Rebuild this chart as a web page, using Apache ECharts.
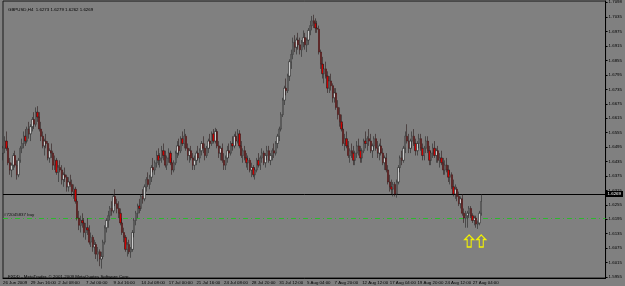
<!DOCTYPE html>
<html><head><meta charset="utf-8">
<script src="https://cdn.jsdelivr.net/npm/echarts@6/dist/echarts.min.js"></script>
<style>html,body{margin:0;padding:0;background:#808080;}#c{width:625px;height:286px;}</style>
</head><body><div id="c"></div>
<script>
const opens=[
1.6470,1.6490,1.6520,1.6490,1.6430,1.6400,1.6420,1.6460,1.6420,1.6380,
1.6440,1.6490,1.6510,1.6540,1.6520,1.6570,1.6550,1.6580,1.6610,1.6590,
1.6640,1.6620,1.6570,1.6540,1.6500,1.6520,1.6510,1.6450,1.6480,1.6470,
1.6420,1.6440,1.6390,1.6410,1.6400,1.6360,1.6380,1.6370,1.6330,1.6350,
1.6340,1.6310,1.6320,1.6270,1.6200,1.6170,1.6190,1.6180,1.6140,1.6160,
1.6150,1.6100,1.6120,1.6080,1.6090,1.6050,1.6060,1.6030,1.6040,1.6100,
1.6160,1.6190,1.6210,1.6240,1.6230,1.6290,1.6260,1.6240,1.6220,1.6180,
1.6140,1.6120,1.6070,1.6090,1.6060,1.6070,1.6140,1.6190,1.6220,1.6250,
1.6240,1.6290,1.6280,1.6330,1.6360,1.6340,1.6370,1.6410,1.6400,1.6430,
1.6460,1.6440,1.6450,1.6480,1.6460,1.6420,1.6450,1.6470,1.6430,1.6400,
1.6430,1.6470,1.6500,1.6480,1.6530,1.6510,1.6540,1.6490,1.6460,1.6480,
1.6450,1.6420,1.6440,1.6470,1.6450,1.6480,1.6510,1.6490,1.6460,1.6490,
1.6520,1.6510,1.6550,1.6520,1.6560,1.6500,1.6470,1.6490,1.6440,1.6420,
1.6450,1.6480,1.6470,1.6510,1.6500,1.6540,1.6520,1.6550,1.6500,1.6460,
1.6480,1.6450,1.6430,1.6440,1.6400,1.6410,1.6380,1.6400,1.6440,1.6420,
1.6450,1.6470,1.6430,1.6460,1.6480,1.6440,1.6460,1.6480,1.6470,1.6510,
1.6540,1.6570,1.6630,1.6690,1.6740,1.6730,1.6790,1.6850,1.6880,1.6930,
1.6910,1.6940,1.6920,1.6900,1.6930,1.6950,1.6920,1.6940,1.6980,1.7000,
1.7020,1.7010,1.6990,1.6985,1.6890,1.6840,1.6800,1.6820,1.6790,1.6740,
1.6770,1.6750,1.6700,1.6720,1.6660,1.6630,1.6600,1.6570,1.6510,1.6530,
1.6500,1.6460,1.6480,1.6470,1.6440,1.6470,1.6500,1.6480,1.6450,1.6480,
1.6520,1.6510,1.6530,1.6520,1.6480,1.6500,1.6530,1.6490,1.6470,1.6500,
1.6470,1.6430,1.6450,1.6400,1.6350,1.6330,1.6320,1.6340,1.6300,1.6350,
1.6410,1.6450,1.6440,1.6490,1.6540,1.6520,1.6490,1.6520,1.6540,1.6510,
1.6480,1.6510,1.6530,1.6490,1.6460,1.6490,1.6520,1.6480,1.6440,1.6470,
1.6490,1.6460,1.6480,1.6440,1.6450,1.6430,1.6400,1.6420,1.6400,1.6370,
1.6380,1.6330,1.6300,1.6320,1.6290,1.6260,1.6280,1.6220,1.6200,1.6210,
1.6220,1.6240,1.6210,1.6190,1.6200,1.6175,1.6180,1.6220];
const highs=[
1.6500,1.6540,1.6560,1.6500,1.6450,1.6430,1.6470,1.6480,1.6440,1.6450,
1.6500,1.6530,1.6560,1.6570,1.6580,1.6600,1.6590,1.6620,1.6640,1.6660,
1.6665,1.6640,1.6600,1.6560,1.6530,1.6550,1.6520,1.6490,1.6510,1.6480,
1.6460,1.6450,1.6420,1.6440,1.6420,1.6390,1.6410,1.6380,1.6370,1.6380,
1.6360,1.6340,1.6330,1.6280,1.6230,1.6210,1.6220,1.6200,1.6180,1.6200,
1.6170,1.6140,1.6130,1.6110,1.6100,1.6080,1.6070,1.6060,1.6110,1.6170,
1.6200,1.6230,1.6250,1.6270,1.6300,1.6320,1.6280,1.6270,1.6240,1.6200,
1.6160,1.6130,1.6100,1.6110,1.6080,1.6150,1.6200,1.6230,1.6260,1.6280,
1.6300,1.6320,1.6340,1.6370,1.6390,1.6380,1.6420,1.6450,1.6440,1.6480,
1.6490,1.6470,1.6500,1.6510,1.6480,1.6460,1.6490,1.6480,1.6450,1.6440,
1.6480,1.6520,1.6530,1.6540,1.6560,1.6570,1.6550,1.6510,1.6490,1.6500,
1.6470,1.6460,1.6480,1.6500,1.6490,1.6520,1.6540,1.6510,1.6500,1.6530,
1.6550,1.6560,1.6570,1.6575,1.6570,1.6520,1.6500,1.6510,1.6470,1.6460,
1.6500,1.6510,1.6520,1.6540,1.6550,1.6560,1.6570,1.6565,1.6520,1.6490,
1.6500,1.6470,1.6460,1.6450,1.6430,1.6420,1.6410,1.6450,1.6470,1.6460,
1.6490,1.6480,1.6470,1.6500,1.6500,1.6470,1.6490,1.6510,1.6520,1.6550,
1.6580,1.6640,1.6700,1.6750,1.6780,1.6800,1.6860,1.6900,1.6950,1.6960,
1.6950,1.6970,1.6950,1.6940,1.6980,1.6970,1.6950,1.6990,1.7020,1.7040,
1.7045,1.7030,1.7020,1.7000,1.6900,1.6870,1.6840,1.6850,1.6810,1.6790,
1.6800,1.6760,1.6740,1.6740,1.6690,1.6660,1.6630,1.6590,1.6550,1.6560,
1.6520,1.6490,1.6510,1.6500,1.6480,1.6520,1.6530,1.6500,1.6490,1.6530,
1.6560,1.6540,1.6570,1.6550,1.6510,1.6540,1.6550,1.6520,1.6510,1.6530,
1.6490,1.6460,1.6470,1.6420,1.6380,1.6360,1.6350,1.6350,1.6360,1.6420,
1.6460,1.6480,1.6500,1.6560,1.6590,1.6550,1.6530,1.6560,1.6570,1.6530,
1.6520,1.6550,1.6550,1.6510,1.6500,1.6540,1.6540,1.6500,1.6480,1.6510,
1.6520,1.6490,1.6500,1.6470,1.6480,1.6450,1.6440,1.6450,1.6420,1.6400,
1.6390,1.6360,1.6340,1.6330,1.6310,1.6290,1.6300,1.6240,1.6230,1.6230,
1.6250,1.6250,1.6220,1.6210,1.6210,1.6190,1.6230,1.6300];
const lows=[
1.6440,1.6470,1.6480,1.6420,1.6380,1.6370,1.6400,1.6410,1.6360,1.6370,
1.6430,1.6470,1.6490,1.6500,1.6510,1.6530,1.6520,1.6560,1.6570,1.6580,
1.6600,1.6560,1.6520,1.6490,1.6460,1.6490,1.6440,1.6430,1.6450,1.6400,
1.6400,1.6380,1.6350,1.6390,1.6340,1.6330,1.6350,1.6310,1.6310,1.6330,
1.6290,1.6280,1.6260,1.6190,1.6150,1.6140,1.6160,1.6120,1.6110,1.6130,
1.6090,1.6080,1.6060,1.6050,1.6030,1.6020,1.6000,1.5990,1.6030,1.6090,
1.6140,1.6160,1.6190,1.6210,1.6220,1.6250,1.6220,1.6200,1.6170,1.6130,
1.6100,1.6060,1.6040,1.6050,1.6035,1.6060,1.6120,1.6170,1.6200,1.6220,
1.6230,1.6260,1.6270,1.6310,1.6330,1.6320,1.6350,1.6390,1.6380,1.6410,
1.6420,1.6410,1.6430,1.6440,1.6410,1.6400,1.6430,1.6420,1.6380,1.6390,
1.6420,1.6450,1.6460,1.6470,1.6500,1.6490,1.6480,1.6440,1.6430,1.6440,
1.6400,1.6400,1.6420,1.6440,1.6430,1.6460,1.6470,1.6440,1.6450,1.6470,
1.6490,1.6500,1.6510,1.6510,1.6490,1.6450,1.6440,1.6430,1.6400,1.6400,
1.6430,1.6450,1.6460,1.6480,1.6490,1.6500,1.6510,1.6490,1.6450,1.6430,
1.6440,1.6410,1.6400,1.6390,1.6370,1.6370,1.6360,1.6390,1.6410,1.6400,
1.6430,1.6420,1.6410,1.6440,1.6430,1.6420,1.6440,1.6450,1.6460,1.6490,
1.6520,1.6560,1.6620,1.6670,1.6710,1.6720,1.6770,1.6820,1.6860,1.6890,
1.6880,1.6900,1.6880,1.6870,1.6910,1.6900,1.6890,1.6920,1.6960,1.6980,
1.6990,1.6970,1.6970,1.6880,1.6820,1.6780,1.6760,1.6780,1.6720,1.6720,
1.6730,1.6680,1.6680,1.6650,1.6610,1.6580,1.6560,1.6500,1.6480,1.6490,
1.6450,1.6430,1.6450,1.6420,1.6420,1.6450,1.6460,1.6430,1.6430,1.6470,
1.6490,1.6480,1.6500,1.6470,1.6450,1.6480,1.6480,1.6450,1.6440,1.6460,
1.6420,1.6400,1.6390,1.6340,1.6310,1.6300,1.6290,1.6290,1.6285,1.6340,
1.6390,1.6420,1.6430,1.6470,1.6510,1.6470,1.6470,1.6490,1.6500,1.6460,
1.6460,1.6490,1.6480,1.6440,1.6440,1.6470,1.6470,1.6420,1.6420,1.6450,
1.6450,1.6430,1.6430,1.6410,1.6420,1.6380,1.6380,1.6390,1.6350,1.6340,
1.6320,1.6290,1.6280,1.6270,1.6250,1.6240,1.6210,1.6180,1.6160,1.6160,
1.6200,1.6200,1.6180,1.6170,1.6160,1.6155,1.6170,1.6210];
const closes=[
1.6490,1.6520,1.6490,1.6430,1.6400,1.6420,1.6460,1.6420,1.6380,1.6440,
1.6490,1.6510,1.6540,1.6520,1.6570,1.6550,1.6580,1.6610,1.6590,1.6640,
1.6620,1.6570,1.6540,1.6500,1.6520,1.6510,1.6450,1.6480,1.6470,1.6420,
1.6440,1.6390,1.6410,1.6400,1.6360,1.6380,1.6370,1.6330,1.6350,1.6340,
1.6310,1.6320,1.6270,1.6200,1.6170,1.6190,1.6180,1.6140,1.6160,1.6150,
1.6100,1.6120,1.6080,1.6090,1.6050,1.6060,1.6030,1.6040,1.6100,1.6160,
1.6190,1.6210,1.6240,1.6230,1.6290,1.6260,1.6240,1.6220,1.6180,1.6140,
1.6120,1.6070,1.6090,1.6060,1.6070,1.6140,1.6190,1.6220,1.6250,1.6240,
1.6290,1.6280,1.6330,1.6360,1.6340,1.6370,1.6410,1.6400,1.6430,1.6460,
1.6440,1.6450,1.6480,1.6460,1.6420,1.6450,1.6470,1.6430,1.6400,1.6430,
1.6470,1.6500,1.6480,1.6530,1.6510,1.6540,1.6490,1.6460,1.6480,1.6450,
1.6420,1.6440,1.6470,1.6450,1.6480,1.6510,1.6490,1.6460,1.6490,1.6520,
1.6510,1.6550,1.6520,1.6560,1.6500,1.6470,1.6490,1.6440,1.6420,1.6450,
1.6480,1.6470,1.6510,1.6500,1.6540,1.6520,1.6550,1.6500,1.6460,1.6480,
1.6450,1.6430,1.6440,1.6400,1.6410,1.6380,1.6400,1.6440,1.6420,1.6450,
1.6470,1.6430,1.6460,1.6480,1.6440,1.6460,1.6480,1.6470,1.6510,1.6540,
1.6570,1.6630,1.6690,1.6740,1.6730,1.6790,1.6850,1.6880,1.6930,1.6910,
1.6940,1.6920,1.6900,1.6930,1.6950,1.6920,1.6940,1.6980,1.7000,1.7020,
1.7010,1.6990,1.6985,1.6890,1.6840,1.6800,1.6820,1.6790,1.6740,1.6770,
1.6750,1.6700,1.6720,1.6660,1.6630,1.6600,1.6570,1.6510,1.6530,1.6500,
1.6460,1.6480,1.6470,1.6440,1.6470,1.6500,1.6480,1.6450,1.6480,1.6520,
1.6510,1.6530,1.6520,1.6480,1.6500,1.6530,1.6490,1.6470,1.6500,1.6470,
1.6430,1.6450,1.6400,1.6350,1.6330,1.6320,1.6340,1.6300,1.6350,1.6410,
1.6450,1.6440,1.6490,1.6540,1.6520,1.6490,1.6520,1.6540,1.6510,1.6480,
1.6510,1.6530,1.6490,1.6460,1.6490,1.6520,1.6480,1.6440,1.6470,1.6490,
1.6460,1.6480,1.6440,1.6450,1.6430,1.6400,1.6420,1.6400,1.6370,1.6380,
1.6330,1.6300,1.6320,1.6290,1.6260,1.6280,1.6220,1.6200,1.6210,1.6220,
1.6240,1.6210,1.6190,1.6200,1.6175,1.6180,1.6220,1.6269];

const xTickLabels=['26 Jun 2009','29 Jun 16:00','2 Jul 08:00','7 Jul 00:00','9 Jul 16:00','14 Jul 08:00','17 Jul 00:00','21 Jul 16:00','24 Jul 08:00','28 Jul 20:00','31 Jul 12:00','5 Aug 04:00','7 Aug 20:00','12 Aug 12:00','17 Aug 04:00','19 Aug 20:00','24 Aug 12:00','27 Aug 04:00'];
const yTicks=[1.5955,1.6015,1.6075,1.6135,1.6195,1.6255,1.6315,1.6375,1.6435,1.6495,1.6555,1.6615,1.6675,1.6735,1.6795,1.6855,1.6915,1.6975,1.7035,1.7098];
const titleText='GBPUSD,H4  1.6273 1.6279 1.6262 1.6269';
const footerText='FXDD - MetaTrader, \u00a9 2001-2009 MetaQuotes Software Corp.';
const currentPrice=1.6269;
const orderPrice=1.6192;
const orderLabel='#72045837 buy';
const arrowBars=[270,277];
const arrowPrice=1.6105;
const labelEvery=16;
const slotCount=350;

const categories=[];
for(let i=0;i<slotCount;i++) categories.push(i);
const candles=opens.map((o,i)=>[o,closes[i],lows[i],highs[i]]);
const showTick=(idx)=>idx%labelEvery===0 && idx/labelEvery<xTickLabels.length;
const FONT='Liberation Sans';
const FS=4.4;

const chart=echarts.init(document.getElementById('c'),null,{renderer:'canvas'});
chart.setOption({
  animation:false,
  backgroundColor:'#808080',
  textStyle:{fontFamily:FONT},
  title:[
    {text:titleText,left:3,top:2.5,textStyle:{fontSize:FS,color:'#000',fontWeight:'normal',fontFamily:FONT}},
    {text:footerText,left:3,top:269.5,textStyle:{fontSize:FS,color:'#000',fontWeight:'normal',fontFamily:FONT}}
  ],
  grid:{left:2,right:17,top:1,bottom:8,show:true,borderColor:'#1a1a1a',borderWidth:1,backgroundColor:'transparent'},
  xAxis:{
    type:'category',data:categories,boundaryGap:false,
    axisLine:{show:true,lineStyle:{color:'#000',width:1}},
    axisTick:{show:false},
    axisLabel:{interval:(idx)=>showTick(idx),formatter:(v,idx)=>xTickLabels[idx/labelEvery]||'',
      align:'left',margin:3,fontSize:FS,color:'#000',fontFamily:FONT},
    splitLine:{show:false}
  },
  yAxis:{
    type:'value',position:'right',min:1.5951,max:1.7102,scale:true,
    axisLine:{show:true,lineStyle:{color:'#000',width:1}},
    axisTick:{show:true,customValues:yTicks,length:2,lineStyle:{color:'#000'}},
    axisLabel:{customValues:yTicks,formatter:(v)=>Number(v).toFixed(4),fontSize:FS,color:'#000',margin:3,fontFamily:FONT},
    splitLine:{show:false}
  },
  series:[{
    type:'candlestick',data:candles,barWidth:1.8,z:5,
    itemStyle:{color:'#cccccc',color0:'#d00000',borderColor:'#262626',borderColor0:'#2a1a1a',borderWidth:0.6},
    markLine:{
      silent:true,symbol:['none','none'],animation:false,
      data:[
        {yAxis:currentPrice,lineStyle:{color:'#000',type:'solid',width:1},
          label:{show:true,position:'end',formatter:currentPrice.toFixed(4),backgroundColor:'#000',color:'#fff',fontSize:FS,fontFamily:FONT,padding:[1,2,1,2],distance:0}},
        {yAxis:orderPrice,lineStyle:{color:'#2cb82c',type:[5,3,1,3],width:1},
          label:{show:true,position:'insideStartTop',formatter:orderLabel,color:'#111',fontSize:FS,fontFamily:FONT,distance:1}}
      ]
    },
    markPoint:{
      silent:true,animation:false,
      symbol:'path://M4.5,0 L9,5 L6.5,5 L6.5,13 L2.5,13 L2.5,5 L0,5 Z',
      symbolSize:[9,12],
      itemStyle:{color:'rgba(0,0,0,0)',borderColor:'#f2f200',borderWidth:1.2},
      label:{show:false},
      data:arrowBars.map(b=>({coord:[b,arrowPrice]}))
    }
  }]
});
</script></body></html>
